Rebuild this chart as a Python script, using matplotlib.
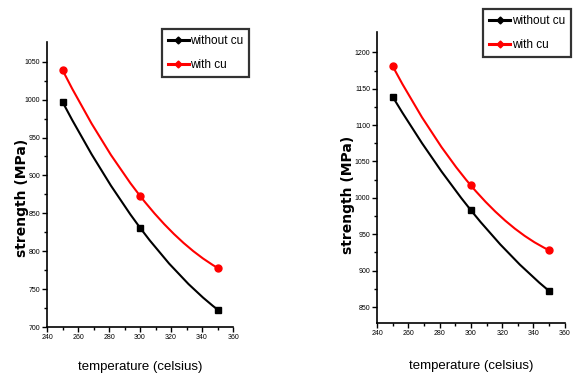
import numpy as np
import matplotlib
matplotlib.use("Agg")
import matplotlib.pyplot as plt
from matplotlib.path import Path
from matplotlib.patches import PathPatch
from matplotlib.lines import Line2D

# data
temps = [250, 300, 350]
left_without = [997, 831, 723]
left_with = [1039, 873, 778]
right_without = [1139, 983, 872]
right_with = [1181, 1017, 928]

narrow = ["Liberation Sans", "DejaVu Sans"]


def smooth_path(x, y):
    # draws the parabola through the three points as two quadratic bezier pieces
    x0, x1, x2 = x
    y0, y1, y2 = y
    c1 = ((x0 + x1) / 2, y0 + (-3 * y0 + 4 * y1 - y2) / 4)
    c2 = ((x1 + x2) / 2, y1 + (y2 - y0) / 4)
    verts = [(x0, y0), c1, (x1, y1), c2, (x2, y2)]
    codes = [Path.MOVETO, Path.CURVE3, Path.CURVE3, Path.CURVE3, Path.CURVE3]
    return Path(verts, codes)


def draw(ax, y_without, y_with, ylim, yticks, ylab_xy, xlab_xy):
    for yy, col, mk in [(y_without, "black", "s"), (y_with, "red", "o")]:
        ax.add_patch(PathPatch(smooth_path(temps, yy), fill=False, edgecolor=col, lw=1.5))
        ax.plot(temps, yy, ls="none", marker=mk, color=col, ms=5)
    ax.set_xlim(240, 360)
    ax.set_ylim(*ylim)
    ax.set_xticks(range(240, 361, 20))
    ax.set_xticks(range(250, 360, 20), minor=True)
    ax.set_yticks(yticks)
    ax.set_yticks([t + 25 for t in yticks[:-1]], minor=True)
    for s in ["top", "right"]:
        ax.spines[s].set_visible(False)
    for s in ["left", "bottom"]:
        ax.spines[s].set_linewidth(1.2)
    ax.tick_params(which="both", direction="out", width=1)
    ax.tick_params(which="major", length=3.5, labelsize=5, pad=1.5)
    ax.tick_params(which="minor", length=2)
    for lab in ax.get_xticklabels() + ax.get_yticklabels():
        lab.set_family(narrow)
    ax.set_ylabel("strength (MPa)", fontsize=10, fontweight="bold", va="center")
    ax.yaxis.set_label_coords(*ylab_xy)
    ax.set_xlabel("temperature (celsius)", fontsize=9.5, family=narrow, va="center")
    ax.xaxis.set_label_coords(*xlab_xy)


fig = plt.figure(figsize=(5.76, 3.77), dpi=100)
ax1 = fig.add_axes([0.0816, 0.1326, 0.323, 0.756])
ax2 = fig.add_axes([0.6545, 0.1432, 0.326, 0.772])

draw(ax1, left_without, left_with, (700, 1076), list(range(700, 1051, 50)),
     (-0.134, 0.453), (0.503, -0.14))
draw(ax2, right_without, right_with, (828, 1228), list(range(850, 1201, 50)),
     (-0.154, 0.44), (0.5, -0.148))

handles = [Line2D([], [], color="black", marker="D", ms=3.5, lw=2.2),
           Line2D([], [], color="red", marker="D", ms=3.5, lw=2.2)]
labels = ["without cu", "with cu"]
for anchor in [(0.281, 0.922), (0.839, 0.975)]:
    leg = fig.legend(handles, labels, loc="upper left", bbox_to_anchor=anchor,
                     prop={"family": narrow, "size": 8.5}, frameon=True, fancybox=False,
                     edgecolor="black", handlelength=1.8, handletextpad=0.1,
                     borderpad=0.5, labelspacing=1.0, borderaxespad=0)
    leg.get_frame().set_linewidth(1.6)

fig.savefig("out.png", dpi=100)
